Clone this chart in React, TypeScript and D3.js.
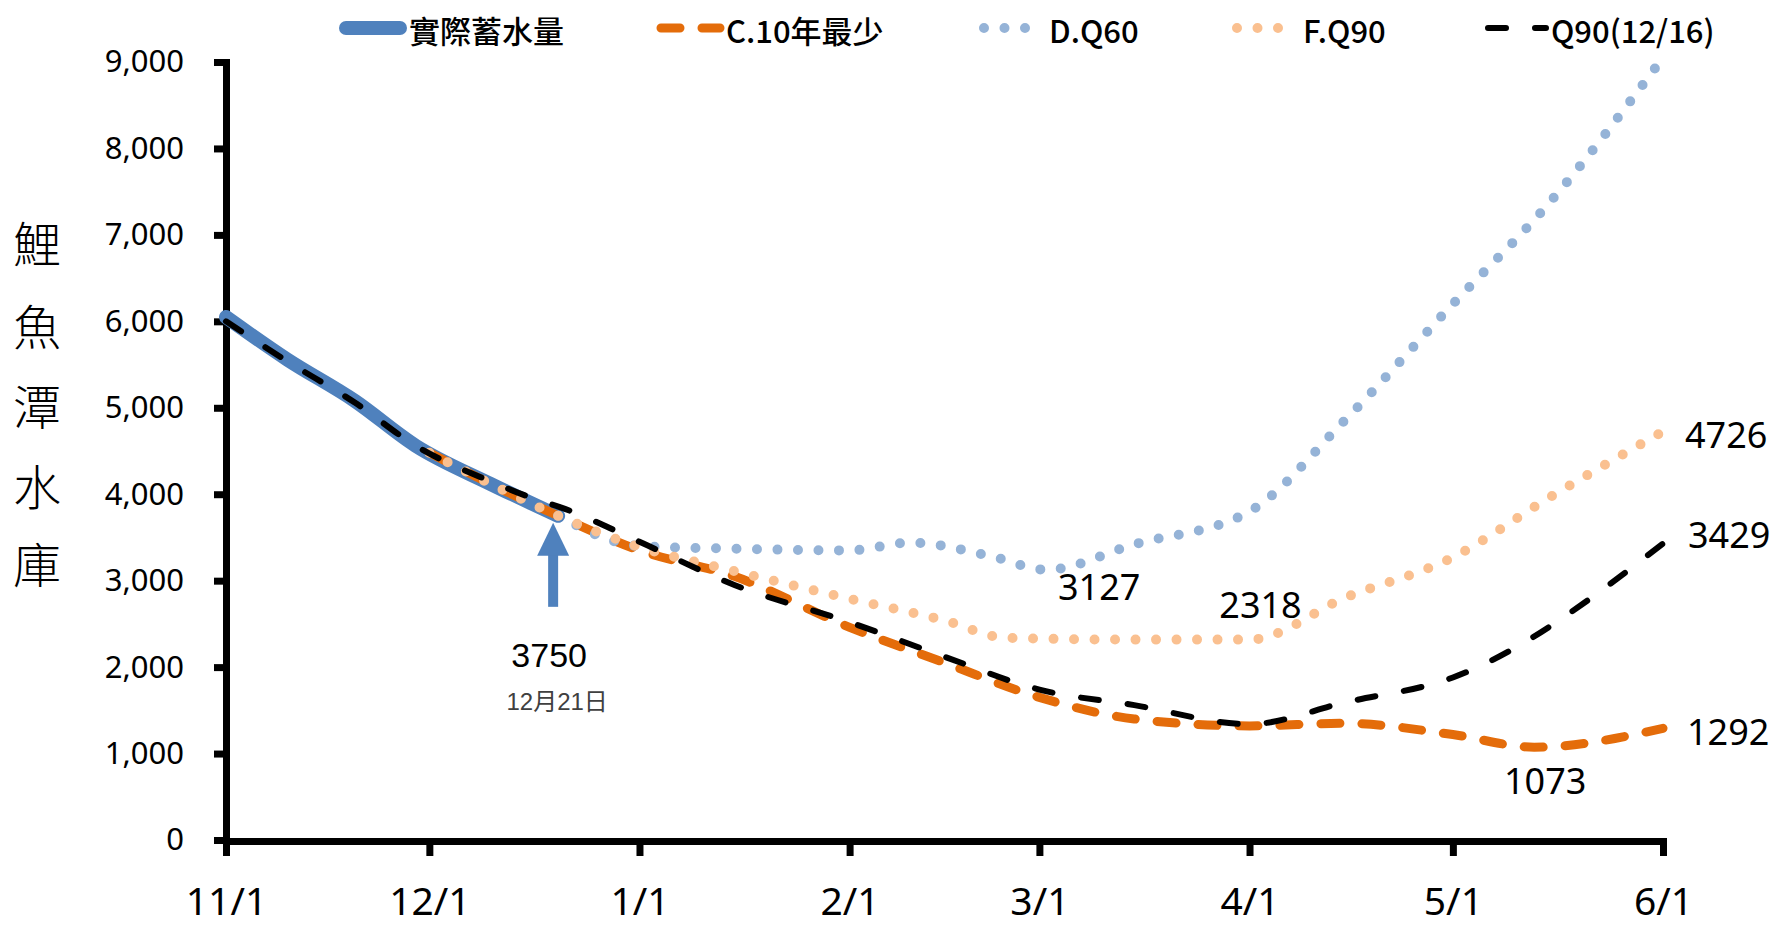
import React, { useEffect, useRef } from "react";
import * as d3 from "d3";

const WIDTH = 1773;
const HEIGHT = 925;

// x axis ticks (month starts) and y axis ticks
const xTickDates = ["2020-11-01", "2020-12-01", "2021-01-01", "2021-02-01", "2021-03-01", "2021-04-01", "2021-05-01", "2021-06-01"];
const yTickValues = [0, 1000, 2000, 3000, 4000, 5000, 6000, 7000, 8000, 9000];

// 實際蓄水量
const actualDates = ["2020-11-01", "2020-11-10", "2020-11-20", "2020-11-29", "2020-12-10", "2020-12-20"];
const actualValues = [6050, 5560, 5080, 4560, 4120, 3750];

// C.10年最少
const minDates = ["2020-12-01", "2020-12-10", "2020-12-20", "2021-01-01", "2021-01-15", "2021-02-01", "2021-02-15", "2021-03-01", "2021-03-15", "2021-04-01", "2021-04-15", "2021-05-01", "2021-05-13", "2021-06-01"];
const minValues = [4480, 4120, 3750, 3350, 3050, 2460, 2050, 1650, 1400, 1320, 1350, 1220, 1073, 1292];

// D.Q60
const q60Dates = ["2020-12-20", "2021-01-01", "2021-01-15", "2021-02-01", "2021-02-10", "2021-02-22", "2021-03-02", "2021-03-15", "2021-04-01", "2021-04-15", "2021-05-01", "2021-05-15", "2021-06-01"];
const q60Values = [3750, 3400, 3370, 3350, 3440, 3280, 3127, 3420, 3800, 4850, 6200, 7350, 9050];

// F.Q90
const q90Dates = ["2020-12-01", "2020-12-10", "2020-12-20", "2021-01-01", "2021-01-15", "2021-02-01", "2021-02-15", "2021-02-24", "2021-03-15", "2021-04-01", "2021-04-15", "2021-05-01", "2021-05-15", "2021-06-01"];
const q90Values = [4480, 4120, 3750, 3390, 3110, 2790, 2540, 2340, 2318, 2318, 2800, 3270, 3950, 4726];

// Q90(12/16)
const q90bDates = ["2020-11-01", "2020-11-10", "2020-11-20", "2020-11-29", "2020-12-10", "2020-12-16", "2020-12-21", "2021-01-01", "2021-01-15", "2021-02-01", "2021-02-15", "2021-03-01", "2021-03-15", "2021-04-01", "2021-04-15", "2021-05-01", "2021-06-01"];
const q90bValues = [6000, 5540, 5060, 4560, 4150, 3960, 3830, 3450, 2950, 2520, 2120, 1740, 1560, 1340, 1590, 1880, 3429];

const titleChars = ["鯉", "魚", "潭", "水", "庫"];

const parseDate = d3.timeParse("%Y-%m-%d");
const NUM_FONT = "'Noto Sans', 'Open Sans', sans-serif";
const CJK_FONT = "'Noto Sans CJK TC', 'Noto Sans', sans-serif";

const series = [
  { name: "實際蓄水量", dates: actualDates, values: actualValues, color: "#4f81bd", width: 14, dash: null, lx: 346, lx2: 400, tx: 409 },
  { name: "C.10年最少", dates: minDates, values: minValues, color: "#e46c0a", width: 9, dash: "19 22", lx: 661, lx2: 720, tx: 726 },
  { name: "D.Q60", dates: q60Dates, values: q60Values, color: "#95b3d7", width: 10, dash: "0 20.5", lx: 984, lx2: 1026, tx: 1049 },
  { name: "F.Q90", dates: q90Dates, values: q90Values, color: "#fac090", width: 10, dash: "0 20.5", lx: 1237, lx2: 1279, tx: 1303 },
  { name: "Q90(12/16)", dates: q90bDates, values: q90bValues, color: "#000000", width: 6, dash: "18 29", lx: 1488, lx2: 1546, tx: 1551 },
];

// value labels: [date, value, dx, dy, anchor]
const valueLabels: [string, number, number, number, string][] = [
  ["2021-03-02", 3127, 53, 30, "middle"],
  ["2021-04-01", 2318, 11, -22, "middle"],
  ["2021-06-01", 4726, 22, 17, "start"],
  ["2021-06-01", 3429, 25, 4, "start"],
  ["2021-06-01", 1292, 24, 17, "start"],
  ["2021-05-13", 1073, 11, 47, "middle"],
];

export default function App() {
  const svgRef = useRef<SVGSVGElement>(null);

  const x = d3.scaleTime()
    .domain([parseDate(xTickDates[0])!, parseDate(xTickDates[xTickDates.length - 1])!])
    .range([226, 1663]);
  const y = d3.scaleLinear().domain([0, 9000]).range([840, 62]);

  const line = d3.line<[Date, number]>()
    .x(d => x(d[0]))
    .y(d => y(d[1]))
    .curve(d3.curveMonotoneX);

  useEffect(() => {
    const svg = d3.select(svgRef.current);

    const yAxis = d3.axisLeft(y)
      .tickValues(yTickValues)
      .tickSize(12)
      .tickSizeOuter(0)
      .tickPadding(30)
      .tickFormat(d3.format(","));
    const yg = svg.select<SVGGElement>(".y-axis").call(yAxis);
    yg.select(".domain").attr("stroke-width", 7).attr("stroke-linecap", "square");
    yg.selectAll(".tick line").attr("stroke-width", 7);
    yg.selectAll(".tick text")
      .attr("font-size", 31)
      .attr("font-family", NUM_FONT)
      .attr("fill", "#000");

    const xAxis = d3.axisBottom(x)
      .tickValues(xTickDates.map(d => parseDate(d)!))
      .tickSize(15)
      .tickSizeOuter(0)
      .tickPadding(31)
      .tickFormat(d => d3.timeFormat("%-m/%-d")(d as Date));
    const xg = svg.select<SVGGElement>(".x-axis").call(xAxis);
    xg.select(".domain").attr("stroke-width", 7).attr("stroke-linecap", "square");
    xg.selectAll(".tick line").attr("stroke-width", 7);
    xg.selectAll(".tick text")
      .attr("font-size", 39)
      .attr("font-family", NUM_FONT)
      .attr("fill", "#000");
  }, []);

  const endX = x(parseDate(actualDates[actualDates.length - 1])!);
  const endY = y(actualValues[actualValues.length - 1]);
  const ax = endX - 5;

  return (
    <svg ref={svgRef} width={WIDTH} height={HEIGHT}
      style={{ position: "absolute", left: 0, top: 0, background: "#fff" }}>
      <g className="y-axis" transform="translate(226,0)" />
      <g className="x-axis" transform="translate(0,841)" />

      {titleChars.map((c, i) => (
        <text key={c} x={37} y={[241, 324, 404, 484, 562][i]} fontSize={48} fontWeight={300}
          fontFamily={CJK_FONT} textAnchor="middle" dominantBaseline="central" fill="#000">{c}</text>
      ))}

      {series.map(s => (
        <path key={s.name}
          d={line(s.dates.map((d, i) => [parseDate(d)!, s.values[i]] as [Date, number])) || ""}
          fill="none" stroke={s.color} strokeWidth={s.width}
          strokeDasharray={s.dash || undefined}
          strokeLinecap="round" strokeLinejoin="round" />
      ))}

      {/* legend */}
      {series.map(s => (
        <g key={"lg" + s.name}>
          <line x1={s.lx} x2={s.lx2} y1={28} y2={28} stroke={s.color} strokeWidth={s.width}
            strokeDasharray={s.dash || undefined} strokeLinecap="round" />
          <text x={s.tx} y={29} fontSize={31} fontWeight={500} fontFamily={CJK_FONT}
            dominantBaseline="central" fill="#000">{s.name}</text>
        </g>
      ))}

      {/* value labels */}
      {valueLabels.map(([d, v, dx, dy, anchor]) => (
        <text key={d + v} x={x(parseDate(d)!) + dx} y={y(v) + dy} fontSize={36}
          fontFamily={NUM_FONT} textAnchor={anchor} fill="#000">{v}</text>
      ))}

      {/* arrow at latest actual value */}
      <line x1={ax} x2={ax} y1={endY + 91} y2={endY + 36} stroke="#4f81bd" strokeWidth={10} />
      <path d={`M${ax},${endY + 7}L${ax + 16},${endY + 40}L${ax - 16},${endY + 40}Z`} fill="#4f81bd" />
      <text x={ax - 4} y={endY + 151} fontSize={34} fontFamily="'Liberation Sans', Arial, sans-serif"
        textAnchor="middle" fill="#000">{actualValues[actualValues.length - 1]}</text>
      <text x={ax + 4} y={endY + 194} fontSize={24} fontFamily="'Liberation Sans', 'Noto Sans CJK TC', sans-serif"
        textAnchor="middle" fill="#404040">12月21日</text>
    </svg>
  );
}
